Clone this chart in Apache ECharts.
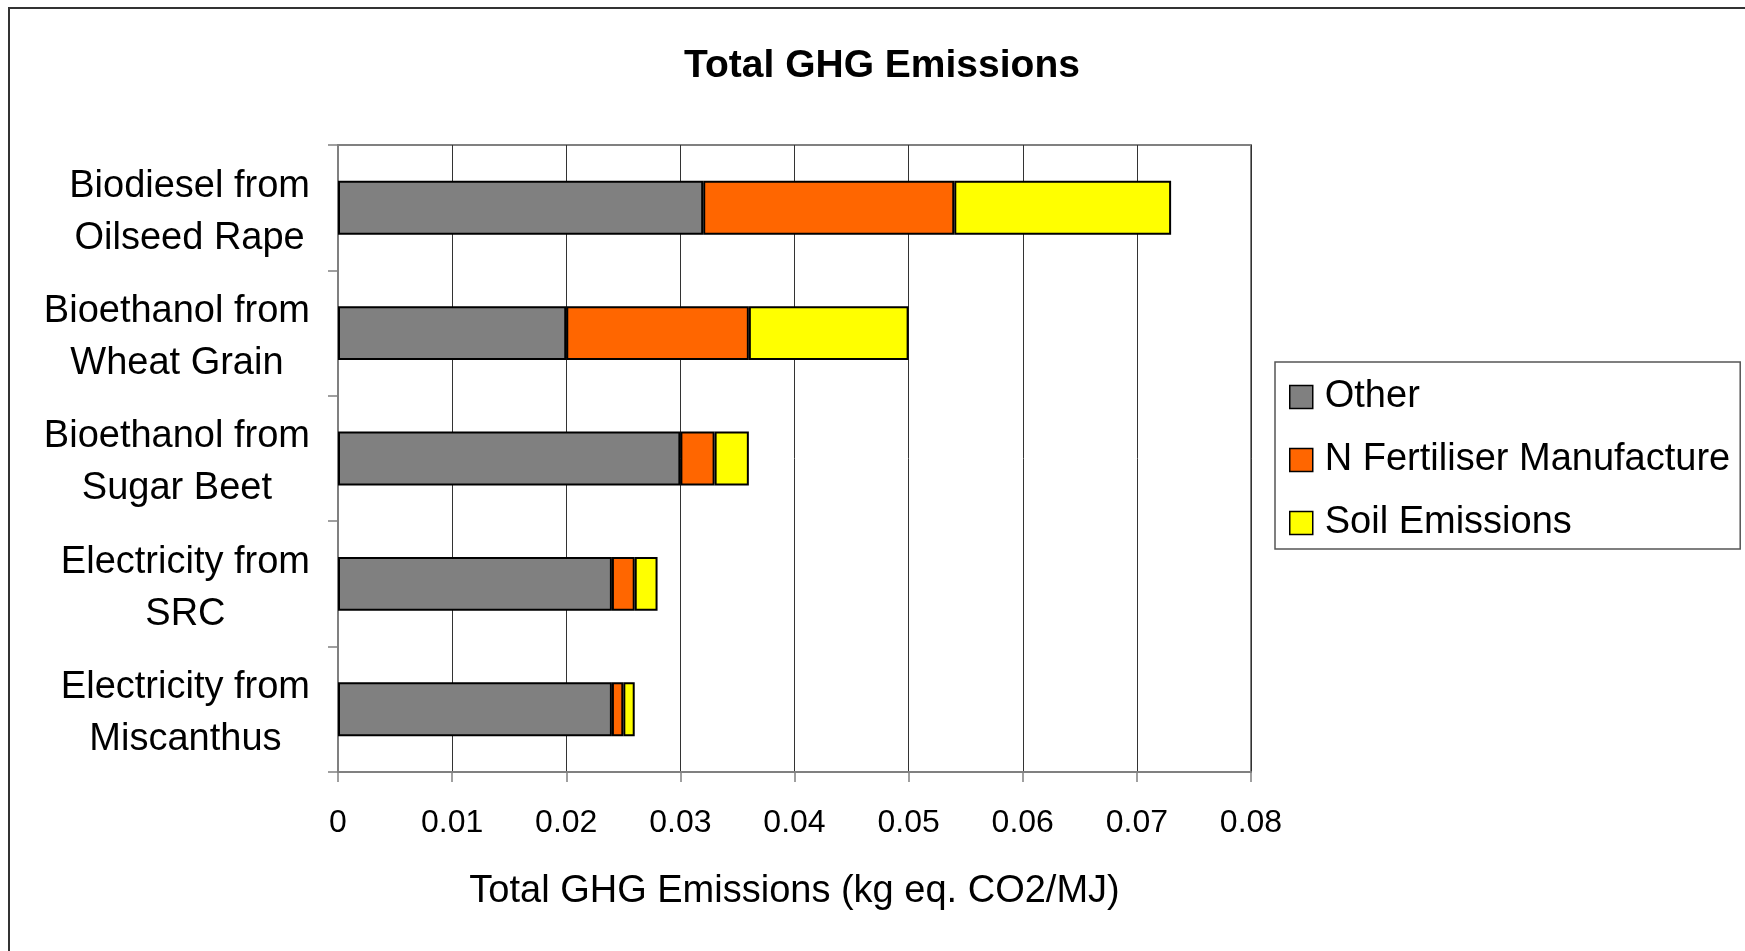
<!DOCTYPE html>
<html>
<head>
<meta charset="utf-8">
<title>Total GHG Emissions</title>
<script src="https://cdn.jsdelivr.net/npm/echarts@6/dist/echarts.min.js"></script>
<style>
  html, body { margin: 0; padding: 0; background: #fff; }
  #chart { width: 1745px; height: 951px; }
</style>
</head>
<body>
<div id="chart"></div>
<script>
// categories, top to bottom
const categories = [
  'Biodiesel from\nOilseed Rape',
  'Bioethanol from\nWheat Grain',
  'Bioethanol from\nSugar Beet',
  'Electricity from\nSRC',
  'Electricity from\nMiscanthus'
];
// kg eq. CO2/MJ
const other = [0.032, 0.020, 0.030, 0.024, 0.024];
const nFertiliser = [0.022, 0.016, 0.003, 0.002, 0.001];
const soilEmissions = [0.019, 0.014, 0.003, 0.002, 0.001];

const seriesNames = ['Other', 'N Fertiliser Manufacture', 'Soil Emissions'];
const xMin = 0;
const xMax = 0.08;
const xStep = 0.01;

const FONT = '"Liberation Sans", Arial, sans-serif';

const chart = echarts.init(document.getElementById('chart'));

const barStyle = (color) => ({
  color: color,
  borderColor: '#000',
  borderWidth: 2
});

const option = {
  animation: false,
  backgroundColor: '#fff',
  textStyle: { fontFamily: FONT, color: '#000' },
  graphic: [
    {
      type: 'rect',
      shape: { x: 9, y: 8, width: 1800, height: 1000 },
      style: { fill: 'none', stroke: '#333', lineWidth: 2 },
      silent: true
    }
  ],
  title: {
    text: 'Total GHG Emissions',
    left: 877,
    top: 42,
    textAlign: 'center',
    textStyle: { fontFamily: FONT, fontSize: 39, fontWeight: 'bold', color: '#000' }
  },
  legend: {
    orient: 'vertical',
    left: 1275,
    top: 362,
    data: seriesNames,
    selectedMode: false,
    icon: 'rect',
    itemWidth: 23,
    itemHeight: 23,
    itemGap: 25,
    padding: [16, 10, 7, 14],
    borderColor: '#555',
    borderWidth: 1.5,
    backgroundColor: '#fff',
    itemStyle: { borderColor: '#000', borderWidth: 1.5 },
    textStyle: { fontFamily: FONT, fontSize: 38, color: '#000', padding: [0, 0, 0, 7] }
  },
  grid: {
    left: 338,
    right: 494,
    top: 145,
    bottom: 179,
    show: true,
    borderColor: '#808080',
    borderWidth: 2
  },
  xAxis: {
    type: 'value',
    min: xMin,
    max: xMax,
    interval: xStep,
    name: 'Total GHG Emissions (kg eq. CO2/MJ)',
    nameLocation: 'middle',
    nameGap: 101,
    nameTextStyle: { fontFamily: FONT, fontSize: 38, color: '#000' },
    axisLine: { show: true, lineStyle: { color: '#808080', width: 2 } },
    axisTick: { show: true, length: 10, lineStyle: { color: '#808080', width: 1.5 } },
    axisLabel: {
      margin: 35,
      fontFamily: FONT,
      fontSize: 32,
      color: '#000',
      formatter: (v) => String(+v.toFixed(2))
    },
    splitLine: { show: true, lineStyle: { color: '#333', width: 1 } }
  },
  yAxis: {
    type: 'category',
    inverse: true,
    data: categories,
    axisLine: { show: true, lineStyle: { color: '#808080', width: 2 } },
    axisTick: { show: true, length: 10, lineStyle: { color: '#808080', width: 1.5 } },
    axisLabel: {
      margin: 28,
      fontFamily: FONT,
      fontSize: 38,
      color: '#000',
      lineHeight: 52,
      padding: [9, 0, 0, 0],
      formatter: (v) => v.split('\n').map((s) => '{c|' + s + '}').join('\n'),
      rich: {
        c: { align: 'center', fontFamily: FONT, fontSize: 38, lineHeight: 52, color: '#000' }
      }
    },
    splitLine: { show: false }
  },
  series: [
    {
      name: seriesNames[0],
      type: 'bar',
      stack: 'total',
      barWidth: '43%',
      data: other,
      itemStyle: barStyle('#808080')
    },
    {
      name: seriesNames[1],
      type: 'bar',
      stack: 'total',
      barWidth: '43%',
      data: nFertiliser,
      itemStyle: barStyle('#FF6600')
    },
    {
      name: seriesNames[2],
      type: 'bar',
      stack: 'total',
      barWidth: '43%',
      data: soilEmissions,
      itemStyle: barStyle('#FFFF00')
    }
  ]
};

chart.setOption(option);
</script>
</body>
</html>
